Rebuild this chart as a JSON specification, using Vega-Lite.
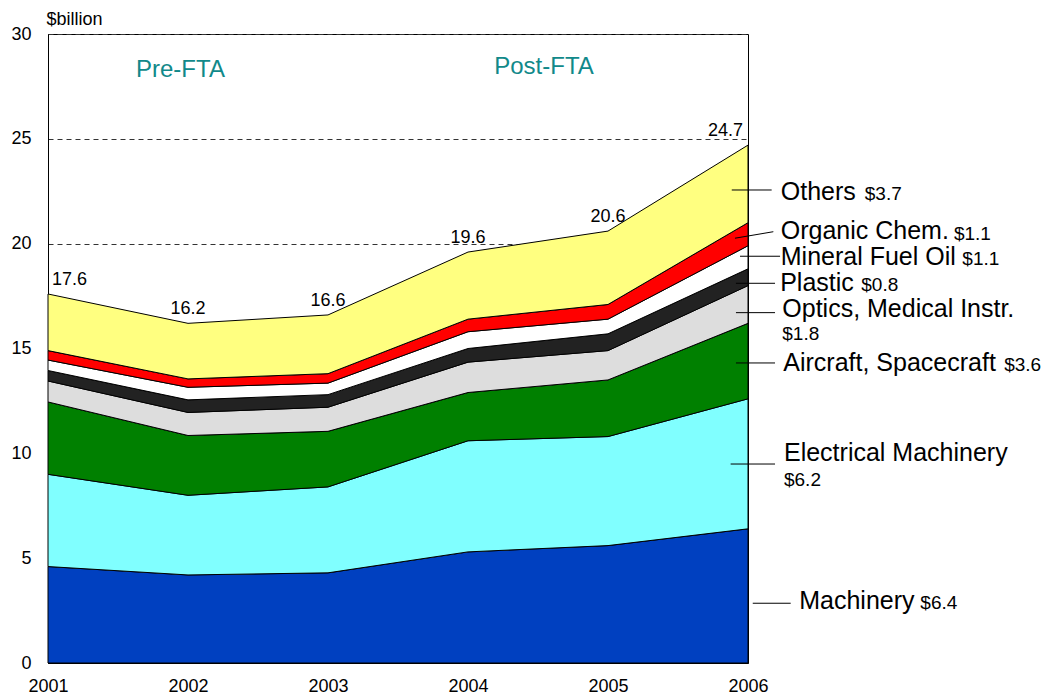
{
  "$schema": "https://vega.github.io/schema/vega-lite/v6.json",
  "width": 700,
  "height": 629,
  "autosize": {"type": "none"},
  "padding": {"left": 48, "top": 34, "right": 312, "bottom": 33},
  "background": "white",
  "config": {"font": "Liberation Sans", "view": {"stroke": "black", "strokeWidth": 1}},
  "datasets": {
    "exports": [
      {"year": 2001, "category": "Machinery", "value": 4.6},
      {"year": 2001, "category": "Electrical Machinery", "value": 4.4},
      {"year": 2001, "category": "Aircraft, Spacecraft", "value": 3.45},
      {"year": 2001, "category": "Optics, Medical Instr.", "value": 1.0},
      {"year": 2001, "category": "Plastic", "value": 0.5},
      {"year": 2001, "category": "Mineral Fuel Oil", "value": 0.5},
      {"year": 2001, "category": "Organic Chem.", "value": 0.45},
      {"year": 2001, "category": "Others", "value": 2.7},
      {"year": 2002, "category": "Machinery", "value": 4.2},
      {"year": 2002, "category": "Electrical Machinery", "value": 3.8},
      {"year": 2002, "category": "Aircraft, Spacecraft", "value": 2.85},
      {"year": 2002, "category": "Optics, Medical Instr.", "value": 1.1},
      {"year": 2002, "category": "Plastic", "value": 0.6},
      {"year": 2002, "category": "Mineral Fuel Oil", "value": 0.6},
      {"year": 2002, "category": "Organic Chem.", "value": 0.4},
      {"year": 2002, "category": "Others", "value": 2.65},
      {"year": 2003, "category": "Machinery", "value": 4.3},
      {"year": 2003, "category": "Electrical Machinery", "value": 4.1},
      {"year": 2003, "category": "Aircraft, Spacecraft", "value": 2.65},
      {"year": 2003, "category": "Optics, Medical Instr.", "value": 1.15},
      {"year": 2003, "category": "Plastic", "value": 0.6},
      {"year": 2003, "category": "Mineral Fuel Oil", "value": 0.55},
      {"year": 2003, "category": "Organic Chem.", "value": 0.45},
      {"year": 2003, "category": "Others", "value": 2.8},
      {"year": 2004, "category": "Machinery", "value": 5.3},
      {"year": 2004, "category": "Electrical Machinery", "value": 5.3},
      {"year": 2004, "category": "Aircraft, Spacecraft", "value": 2.3},
      {"year": 2004, "category": "Optics, Medical Instr.", "value": 1.45},
      {"year": 2004, "category": "Plastic", "value": 0.65},
      {"year": 2004, "category": "Mineral Fuel Oil", "value": 0.8},
      {"year": 2004, "category": "Organic Chem.", "value": 0.6},
      {"year": 2004, "category": "Others", "value": 3.2},
      {"year": 2005, "category": "Machinery", "value": 5.6},
      {"year": 2005, "category": "Electrical Machinery", "value": 5.2},
      {"year": 2005, "category": "Aircraft, Spacecraft", "value": 2.7},
      {"year": 2005, "category": "Optics, Medical Instr.", "value": 1.4},
      {"year": 2005, "category": "Plastic", "value": 0.8},
      {"year": 2005, "category": "Mineral Fuel Oil", "value": 0.7},
      {"year": 2005, "category": "Organic Chem.", "value": 0.7},
      {"year": 2005, "category": "Others", "value": 3.5},
      {"year": 2006, "category": "Machinery", "value": 6.4},
      {"year": 2006, "category": "Electrical Machinery", "value": 6.2},
      {"year": 2006, "category": "Aircraft, Spacecraft", "value": 3.6},
      {"year": 2006, "category": "Optics, Medical Instr.", "value": 1.8},
      {"year": 2006, "category": "Plastic", "value": 0.8},
      {"year": 2006, "category": "Mineral Fuel Oil", "value": 1.1},
      {"year": 2006, "category": "Organic Chem.", "value": 1.1},
      {"year": 2006, "category": "Others", "value": 3.7}
    ],
    "labels": [
      {"name": "Others", "amount": "$3.7", "lx1": 2005.884, "ly1": 22.56, "lx2": 2006.169, "ly2": 22.56, "nx": 2006.234, "ny": 22.08, "ax": 2006.834, "ay": 22.08},
      {"name": "Organic Chem.", "amount": "$1.1", "lx1": 2005.907, "ly1": 20.26, "lx2": 2006.181, "ly2": 20.57, "nx": 2006.234, "ny": 20.21, "ax": 2007.471, "ay": 20.17},
      {"name": "Mineral Fuel Oil", "amount": "$1.1", "lx1": 2005.943, "ly1": 19.4, "lx2": 2006.229, "ly2": 19.4, "nx": 2006.234, "ny": 18.98, "ax": 2007.531, "ay": 18.96},
      {"name": "Plastic", "amount": "$0.8", "lx1": 2005.914, "ly1": 18.11, "lx2": 2006.193, "ly2": 18.11, "nx": 2006.23, "ny": 17.74, "ax": 2006.809, "ay": 17.74},
      {"name": "Optics, Medical Instr.", "amount": "$1.8", "lx1": 2005.914, "ly1": 16.71, "lx2": 2006.193, "ly2": 16.71, "nx": 2006.245, "ny": 16.5, "ax": 2006.245, "ay": 15.4},
      {"name": "Aircraft, Spacecraft", "amount": "$3.6", "lx1": 2005.914, "ly1": 14.31, "lx2": 2006.193, "ly2": 14.31, "nx": 2006.252, "ny": 13.94, "ax": 2007.83, "ay": 13.94},
      {"name": "Electrical Machinery", "amount": "$6.2", "lx1": 2005.876, "ly1": 9.49, "lx2": 2006.193, "ly2": 9.49, "nx": 2006.257, "ny": 9.65, "ax": 2006.257, "ay": 8.44},
      {"name": "Machinery", "amount": "$6.4", "lx1": 2006.034, "ly1": 2.85, "lx2": 2006.305, "ly2": 2.85, "nx": 2006.366, "ny": 2.56, "ax": 2007.231, "ay": 2.56}
    ],
    "phases": [
      {"label": "Pre-FTA", "year": 2001.946, "value": 27.96},
      {"label": "Post-FTA", "year": 2004.543, "value": 28.07}
    ]
  },
  "layer": [
    {
      "data": {"name": "exports"},
      "transform": [
        {"calculate": "indexof(['Machinery', 'Electrical Machinery', 'Aircraft, Spacecraft', 'Optics, Medical Instr.', 'Plastic', 'Mineral Fuel Oil', 'Organic Chem.', 'Others'], datum.category)", "as": "stackOrder"}
      ],
      "mark": {"type": "area", "stroke": "black", "strokeWidth": 1, "opacity": 1},
      "encoding": {
        "x": {
          "field": "year", "type": "quantitative",
          "scale": {"domain": [2001, 2006], "nice": false, "zero": false},
          "axis": {"values": [2001, 2002, 2003, 2004, 2005, 2006], "format": "d", "title": null, "ticks": false, "labelFontSize": 18, "labelPadding": 14, "labelColor": "black", "domainColor": "black", "grid": false, "labelFlush": false}
        },
        "y": {
          "field": "value", "type": "quantitative", "stack": "zero",
          "scale": {"domain": [0, 30], "nice": false},
          "axis": {"values": [0, 5, 10, 15, 20, 25, 30], "title": "$billion", "titleAngle": 0, "titleAlign": "left", "titleX": -2, "titleY": -10, "titleFontSize": 18, "titleFontWeight": "normal", "titleBaseline": "alphabetic", "titleColor": "black", "ticks": false, "labelFontSize": 18, "labelPadding": 17, "labelColor": "black", "grid": true, "gridDash": [5, 4], "gridColor": "#333333", "gridWidth": 1, "domainColor": "black"}
        },
        "color": {
          "field": "category", "type": "nominal",
          "scale": {
            "domain": ["Machinery", "Electrical Machinery", "Aircraft, Spacecraft", "Optics, Medical Instr.", "Plastic", "Mineral Fuel Oil", "Organic Chem.", "Others"],
            "range": ["#0040C0", "#80FFFF", "#008000", "#DDDDDD", "#222222", "#FFFFFF", "#FF0000", "#FFFF80"]
          },
          "legend": null
        },
        "order": {"field": "stackOrder", "type": "quantitative", "sort": "ascending"}
      }
    },
    {
      "mark": {"type": "rule", "color": "black", "strokeWidth": 2},
      "encoding": {
        "x": {"datum": 2003.5, "type": "quantitative"},
        "y": {"datum": 0.65, "type": "quantitative"},
        "y2": {"datum": 30}
      }
    },
    {
      "data": {"name": "exports"},
      "transform": [
        {"aggregate": [{"op": "sum", "field": "value", "as": "total"}], "groupby": ["year"]},
        {"filter": "datum.year > 2001 && datum.year < 2006"}
      ],
      "mark": {"type": "text", "fontSize": 18, "baseline": "alphabetic", "align": "center", "dy": -9, "color": "black"},
      "encoding": {
        "x": {"field": "year", "type": "quantitative"},
        "y": {"field": "total", "type": "quantitative"},
        "text": {"field": "total", "type": "quantitative", "format": ".1f"}
      }
    },
    {
      "data": {"name": "exports"},
      "transform": [
        {"aggregate": [{"op": "sum", "field": "value", "as": "total"}], "groupby": ["year"]},
        {"filter": "datum.year == 2001"}
      ],
      "mark": {"type": "text", "fontSize": 18, "baseline": "alphabetic", "align": "left", "dx": 4, "dy": -9, "color": "black"},
      "encoding": {
        "x": {"field": "year", "type": "quantitative"},
        "y": {"field": "total", "type": "quantitative"},
        "text": {"field": "total", "type": "quantitative", "format": ".1f"}
      }
    },
    {
      "data": {"name": "exports"},
      "transform": [
        {"aggregate": [{"op": "sum", "field": "value", "as": "total"}], "groupby": ["year"]},
        {"filter": "datum.year == 2006"}
      ],
      "mark": {"type": "text", "fontSize": 18, "baseline": "alphabetic", "align": "right", "dx": -5, "dy": -9, "color": "black"},
      "encoding": {
        "x": {"field": "year", "type": "quantitative"},
        "y": {"field": "total", "type": "quantitative"},
        "text": {"field": "total", "type": "quantitative", "format": ".1f"}
      }
    },
    {
      "data": {"name": "labels"},
      "mark": {"type": "rule", "color": "black", "strokeWidth": 1},
      "encoding": {
        "x": {"field": "lx1", "type": "quantitative"},
        "y": {"field": "ly1", "type": "quantitative"},
        "x2": {"field": "lx2"},
        "y2": {"field": "ly2"}
      }
    },
    {
      "data": {"name": "labels"},
      "mark": {"type": "text", "fontSize": 25, "baseline": "alphabetic", "align": "left", "color": "black"},
      "encoding": {
        "x": {"field": "nx", "type": "quantitative"},
        "y": {"field": "ny", "type": "quantitative"},
        "text": {"field": "name"}
      }
    },
    {
      "data": {"name": "labels"},
      "mark": {"type": "text", "fontSize": 19, "baseline": "alphabetic", "align": "left", "color": "black"},
      "encoding": {
        "x": {"field": "ax", "type": "quantitative"},
        "y": {"field": "ay", "type": "quantitative"},
        "text": {"field": "amount"}
      }
    },
    {
      "data": {"name": "phases"},
      "mark": {"type": "text", "fontSize": 24, "baseline": "alphabetic", "align": "center", "color": "#11898A"},
      "encoding": {
        "x": {"field": "year", "type": "quantitative"},
        "y": {"field": "value", "type": "quantitative"},
        "text": {"field": "label"}
      }
    }
  ]
}
